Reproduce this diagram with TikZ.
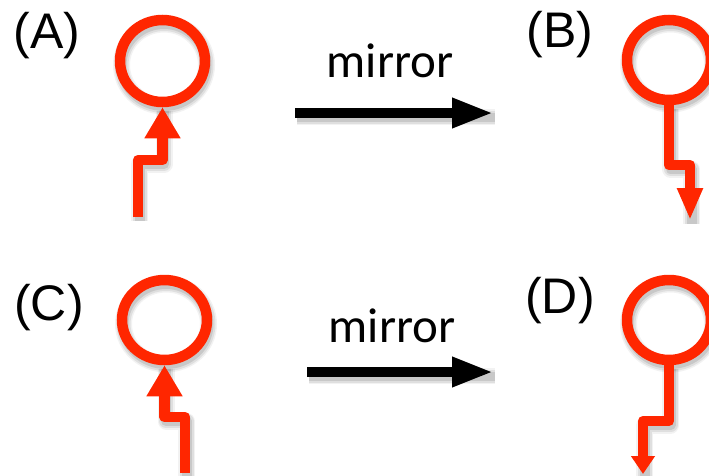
\documentclass[tikz,border=0pt]{standalone}
\usepackage{fontspec}
\setmainfont{Liberation Sans}
\newfontfamily\mirrorfont{Carlito}
\usetikzlibrary{arrows.meta,shapes.geometric}
\pgfdeclarelayer{shade}
\pgfsetlayers{shade,main}
\definecolor{ringred}{RGB}{255,38,0}

\begin{document}
\begin{tikzpicture}[x=1pt,y=-1pt,
  ring/.style={ellipse, draw=ringred, line width=10.5pt, inner sep=0pt},
  zig/.style={draw=ringred, line width=10.5pt, line join=round},
  bigtip/.style={-{Triangle[length=31pt,width=34pt]}},
  slimtip/.style={-{Triangle[length=32pt,width=24pt]}},
  shorttip/.style={-{Triangle[length=18pt,width=23pt]}},
  blacktip/.style={-{Triangle[length=41pt,width=28pt]}},
  mirrorarrow/.style={draw=black, line width=9.5pt, blacktip},
  casetext/.style={font=\fontsize{50}{58}\selectfont, anchor=base, inner sep=0pt},
  mirrortext/.style={font=\mirrorfont\fontsize{49}{58}\selectfont, anchor=base, inner sep=0pt},
  shadowpen/.style={draw=black, draw opacity=#1},
]
\useasboundingbox (0,0) rectangle (709,475);

% case labels
\node[casetext] (la) at (47,48) {(A)};
\node[casetext] (lb) at (560,47) {(B)};
\node[casetext] (lc) at (49,320) {(C)};
\node[casetext] (ld) at (560,313) {(D)};

% rings
\node[ring, minimum width=85pt, minimum height=82pt] (a) at (162.5,61) {};
\node[ring, minimum width=84pt, minimum height=80pt] (b) at (669,60) {};
\node[ring, minimum width=85pt, minimum height=80pt] (c) at (164.5,320) {};
\node[ring, minimum width=84pt, minimum height=80pt] (d) at (669,320) {};

% corner points of the zigzag stems
\coordinate (a0) at (138,217);
\coordinate (ka) at (162.5,160);
\coordinate (kb) at (690,165);
\coordinate (b1) at (690,220);
\coordinate (c0) at (185,473);
\coordinate (kc) at (164.5,417);
\coordinate (kd) at (643,421);
\coordinate (d1) at (643,474);

% zigzag stems
\draw[zig, bigtip] (a0) |- (ka) -- (a.south);
\draw[zig, slimtip] (b.south) |- (kb) -- (b1);
\draw[zig, bigtip] (c0) |- (kc) -- (c.south);
\draw[zig, shorttip] (d.south) |- (kd) -- (d1);

% mirror arrows
\node[mirrortext] (t1) at (390,77) {mirror};
\node[mirrortext] (t2) at (392,342) {mirror};
\coordinate (m1s) at (295,113);
\coordinate (m1e) at (493,113);
\coordinate (m2s) at (307,372);
\coordinate (m2e) at (493,372);
\draw[mirrorarrow] (m1s) -- (m1e);
\draw[mirrorarrow] (m2s) -- (m2e);

% soft drop shadow below everything
\begin{pgfonlayer}{shade}
\begin{scope}[transform canvas={shift={(1.5,4)}}]
\foreach \extra/\op in {7/0.05,4/0.08,0/0.1} {
  \draw[shadowpen=\op, line width=10pt+\extra pt] (a.center) ellipse [x radius=42.5, y radius=41];
  \draw[shadowpen=\op, line width=10pt+\extra pt] (b.center) ellipse [x radius=42, y radius=40];
  \draw[shadowpen=\op, line width=10pt+\extra pt] (c.center) ellipse [x radius=42.5, y radius=40];
  \draw[shadowpen=\op, line width=10pt+\extra pt] (d.center) ellipse [x radius=42, y radius=40];
  \draw[shadowpen=\op, line width=10pt+\extra pt, line join=round] (a0) |- (ka) -- (a.south);
  \draw[shadowpen=\op, line width=10pt+\extra pt, line join=round] (b.south) |- (kb) -- (b1);
  \draw[shadowpen=\op, line width=10pt+\extra pt, line join=round] (c0) |- (kc) -- (c.south);
  \draw[shadowpen=\op, line width=10pt+\extra pt, line join=round] (d.south) |- (kd) -- (d1);
  \draw[shadowpen=\op, line width=9pt+\extra pt] (m1s) -- (m1e);
  \draw[shadowpen=\op, line width=9pt+\extra pt] (m2s) -- (m2e);
}
\end{scope}
\end{pgfonlayer}
\end{tikzpicture}
\end{document}
